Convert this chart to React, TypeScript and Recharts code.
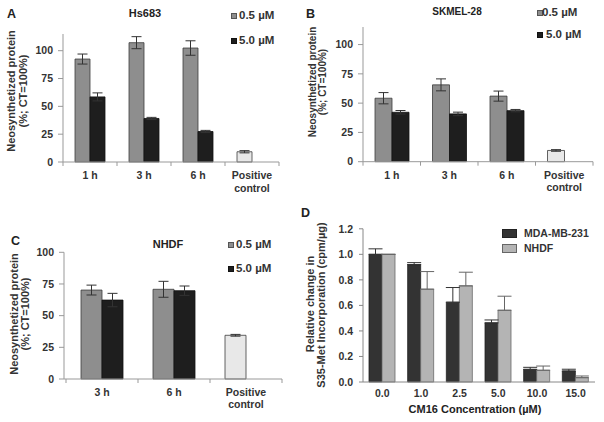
import React from 'react';
import { BarChart, Bar, XAxis, YAxis, ErrorBar, Cell, Legend } from 'recharts';

const FONT = '"Liberation Sans", Arial, Helvetica, sans-serif';

// ---------- Panel A: Hs683 ----------
const hsCategories = ['1 h', '3 h', '6 h', 'Positive control'];
const hsLow = [92.5, 107.2, 102.4, 9.2];
const hsLowErr = [4.5, 5.4, 6.5, 1];
const hsHigh = [58.5, 39.1, 27.4, null];
const hsHighErr = [3.6, 1, 1, null];

// ---------- Panel B: SKMEL-28 ----------
const skCategories = ['1 h', '3 h', '6 h', 'Positive control'];
const skLow = [54.2, 65.6, 56.0, 9.6];
const skLowErr = [4.8, 5.1, 4.3, 0.7];
const skHigh = [42.2, 40.8, 43.6, null];
const skHighErr = [1.5, 1.5, 1.0, null];

// ---------- Panel C: NHDF ----------
const nhCategories = ['3 h', '6 h', 'Positive control'];
const nhLow = [70.2, 70.8, 34.5];
const nhLowErr = [3.9, 6.3, 0.7];
const nhHigh = [62.3, 69.7, null];
const nhHighErr = [5.3, 3.7, null];

const pctTicks = [0, 25, 50, 75, 100];
const lowName = '0.5 µM';
const highName = '5.0 µM';
const controlLabel = 'Positive control';

// ---------- Panel D ----------
const concLabels = ['0.0', '1.0', '2.5', '5.0', '10.0', '15.0'];
const mdaValues = [1.0, 0.92, 0.625, 0.463, 0.099, 0.086];
const mdaErr = [0.043, 0.015, 0.115, 0.023, 0.016, 0.014];
const nhdfValues = [1.0, 0.727, 0.753, 0.562, 0.092, 0.034];
const nhdfErr = [0, 0.138, 0.107, 0.11, 0.033, 0.013];
const relTicks = [0, 0.2, 0.4, 0.6, 0.8, 1.0, 1.2];

const buildRows = (cats: string[], low: any[], lowErr: any[], high: any[], highErr: any[]) =>
  cats.map((c, i) => ({
    cat: c,
    low: low[i],
    lowErr: lowErr[i],
    high: high[i],
    highErr: highErr[i] == null ? undefined : highErr[i],
  }));

const dRows = concLabels.map((c, i) => ({
  cat: c,
  mda: mdaValues[i],
  mdaErr: mdaErr[i],
  nhdf: nhdfValues[i],
  nhdfErr: nhdfErr[i],
}));

const makeCatTick = (half: number, fs: number, l1: number, l2: number, lastCat: string, ticks: boolean) => (props: any) => {
  const { x, y, payload } = props;
  const label = String(payload.value);
  const lines = label.length > 6 && label.includes(' ') ? label.split(' ') : [label];
  return (
    <g>
      {ticks && <line x1={x - half} x2={x - half} y1={y} y2={y + 4} stroke="#999" />}
      {ticks && label === lastCat && <line x1={x + half} x2={x + half} y1={y} y2={y + 4} stroke="#999" />}
      <text textAnchor="middle" fontSize={fs} fontWeight="bold" fill="#333" fontFamily={FONT}>
        {lines.map((t, i) => (
          <tspan key={i} x={x} y={y + l1 + i * l2}>
            {t}
          </tspan>
        ))}
      </text>
    </g>
  );
};

const swatchLegend = (pos: { x: number; y: number }[], tx: number[], sw: number, sh: number, fs: number, strokes: string[]) => (props: any) => (
  <div style={{ position: 'relative' }}>
    {(props.payload || []).map((p: any, i: number) => (
      <div key={i}>
        <div
          style={{
            position: 'absolute',
            left: pos[i].x,
            top: pos[i].y - sh / 2,
            width: sw,
            height: sh,
            boxSizing: 'border-box',
            background: p.color,
            border: `1px solid ${strokes[i]}`,
          }}
        />
        <div
          style={{
            position: 'absolute',
            left: tx[i],
            top: pos[i].y - fs * 0.58,
            whiteSpace: 'nowrap',
            fontFamily: FONT,
            fontWeight: 'bold',
            fontSize: fs,
            lineHeight: `${fs * 1.15}px`,
            color: '#333',
          }}
        >
          {p.value}
        </div>
      </div>
    ))}
  </div>
);

type PctProps = {
  left: number; top: number; width: number; height: number;
  margin: { top: number; right: number; bottom: number; left: number };
  yWidth: number; domainMax: number; cats: string[]; rows: any[]; barSize: number;
  half: number; fs: number; padLeft: number; legendPos: { x: number; y: number }[]; legendTx: number[];
  l1: number; l2: number;
};

const PctPanel = (p: PctProps) => (
  <div style={{ position: 'absolute', left: p.left, top: p.top }}>
    <BarChart width={p.width} height={p.height} data={p.rows} margin={p.margin} barGap={0} barSize={p.barSize}>
      <XAxis
        dataKey="cat"
        interval={0}
        tickSize={0}
        tickMargin={0}
        tickLine={false}
        height={30}
        stroke="#999"
        padding={{ left: p.padLeft, right: 0 }}
        tick={makeCatTick(p.half, p.fs, p.l1, p.l2, p.cats[p.cats.length - 1], true)}
      />
      <YAxis
        width={p.yWidth}
        domain={[0, p.domainMax]}
        ticks={pctTicks}
        interval={0}
        tickSize={5}
        tickMargin={5}
        stroke="#999"
        tick={{ fontSize: p.fs, fontWeight: 'bold', fill: '#333', fontFamily: FONT }}
      />
      <Legend
        layout="vertical"
        align="center"
        verticalAlign="middle"
        wrapperStyle={{ left: 0, top: 0, width: 0, height: 0 }}
        content={swatchLegend(p.legendPos, p.legendTx, 6, 6, 11.5, ['#555', '#111'])}
      />
      <Bar dataKey="low" name={lowName} fill="#8e8e8e" stroke="#3c3c3c" strokeWidth={0.8} isAnimationActive={false}>
        {p.rows.map((r, i) => (
          <Cell key={i} fill={r.cat === controlLabel ? '#e8e8e8' : '#8e8e8e'} />
        ))}
        <ErrorBar dataKey="lowErr" width={5} stroke="#333" strokeWidth={1} direction="y" />
      </Bar>
      <Bar dataKey="high" name={highName} fill="#1e1e1e" stroke="#111" strokeWidth={0.8} isAnimationActive={false}>
        <ErrorBar dataKey="highErr" width={5} stroke="#333" strokeWidth={1} direction="y" />
      </Bar>
    </BarChart>
  </div>
);

const RotText = ({ x, y, fs, children }: any) => (
  <text
    x={x}
    y={y}
    transform={`rotate(-90 ${x} ${y})`}
    textAnchor="middle"
    dominantBaseline="central"
    fontSize={fs}
    fontWeight="bold"
    fill="#333"
    fontFamily={FONT}
  >
    {children}
  </text>
);

const T = ({ x, y, fs, anchor = 'start', children }: any) => (
  <text x={x} y={y} fontSize={fs} fontWeight="bold" fill="#222" fontFamily={FONT} textAnchor={anchor}>
    {children}
  </text>
);

export default function App() {
  const rowsA = buildRows(hsCategories, hsLow, hsLowErr, hsHigh, hsHighErr);
  const rowsB = buildRows(skCategories, skLow, skLowErr, skHigh, skHighErr);
  const rowsC = buildRows(nhCategories, nhLow, nhLowErr, nhHigh, nhHighErr);

  return (
    <div style={{ position: 'absolute', left: 0, top: 0, width: 604, height: 422, background: '#fff', overflow: 'hidden' }}>
      <PctPanel
        left={0} top={0} width={300} height={200}
        margin={{ top: 34, right: 21, bottom: 8, left: 0 }}
        yWidth={63} domainMax={115} cats={hsCategories} rows={rowsA} barSize={15}
        half={27} fs={10.5} padLeft={0}
        legendPos={[{ x: 231, y: 16 }, { x: 231, y: 41 }]} legendTx={[239, 239]}
        l1={17} l2={12.7}
      />
      <PctPanel
        left={300} top={0} width={304} height={200}
        margin={{ top: 27, right: 11, bottom: 8.3, left: 0 }}
        yWidth={63} domainMax={115} cats={skCategories} rows={rowsB} barSize={17}
        half={28.75} fs={10.5} padLeft={0}
        legendPos={[{ x: 237, y: 13 }, { x: 237, y: 35 }]} legendTx={[242, 246]}
        l1={17} l2={12.7}
      />
      <PctPanel
        left={0} top={200} width={300} height={222}
        margin={{ top: 52.3, right: 18, bottom: 13, left: 0 }}
        yWidth={64} domainMax={100} cats={nhCategories} rows={rowsC} barSize={21}
        half={36} fs={10.5} padLeft={2}
        legendPos={[{ x: 228, y: 44.5 }, { x: 228, y: 69 }]} legendTx={[236, 236]}
        l1={17} l2={12}
      />

      <div style={{ position: 'absolute', left: 300, top: 200 }}>
        <BarChart width={304} height={222} data={dRows} margin={{ top: 28.8, right: 9, bottom: 10, left: 0 }} barGap={0} barSize={13}>
          <XAxis
            dataKey="cat"
            interval={0}
            tickSize={0}
            tickMargin={0}
            tickLine={false}
            height={30}
            stroke="#888"
            tick={makeCatTick(19.3, 10.5, 15, 12, concLabels[concLabels.length - 1], false)}
          />
          <YAxis
            width={63}
            domain={[0, 1.2]}
            ticks={relTicks}
            interval={0}
            tickSize={4}
            tickMargin={6}
            stroke="#888"
            tickFormatter={(v: number) => v.toFixed(1)}
            tick={{ fontSize: 10.5, fontWeight: 'bold', fill: '#333', fontFamily: FONT }}
          />
          <Legend
            layout="vertical"
            align="center"
            verticalAlign="middle"
            wrapperStyle={{ left: 0, top: 0, width: 0, height: 0 }}
            content={swatchLegend([{ x: 202, y: 33 }, { x: 202, y: 48 }], [224, 224], 15, 9, 10.5, ['#222', '#666'])}
          />
          <Bar dataKey="mda" name="MDA-MB-231" fill="#333333" stroke="#222" strokeWidth={0.8} isAnimationActive={false}>
            <ErrorBar dataKey={(d: any) => [0, d.mdaErr]} width={7} stroke="#333" strokeWidth={1} direction="y" />
          </Bar>
          <Bar dataKey="nhdf" name="NHDF" fill="#b4b4b4" stroke="#6a6a6a" strokeWidth={0.8} isAnimationActive={false}>
            <ErrorBar dataKey={(d: any) => [0, d.nhdfErr]} width={7} stroke="#666" strokeWidth={1} direction="y" />
          </Bar>
        </BarChart>
      </div>

      <svg width={604} height={422} style={{ position: 'absolute', left: 0, top: 0, pointerEvents: 'none' }}>
        {/* Panel A */}
        <T x={7} y={18} fs={12.5}>A</T>
        <T x={145} y={17} fs={11} anchor="middle">Hs683</T>
        <RotText x={11} y={91} fs={11}>Neosynthetized protein</RotText>
        <RotText x={22.5} y={91} fs={11}>(%; CT=100%)</RotText>
        {/* Panel B */}
        <T x={306} y={18} fs={12.5}>B</T>
        <T x={457} y={15} fs={10} anchor="middle">SKMEL-28</T>
        <RotText x={312.5} y={82} fs={10}>Neosynthetized protein</RotText>
        <RotText x={322.5} y={82} fs={10}>(%; CT=100%)</RotText>
        {/* Panel C */}
        <T x={11} y={245} fs={12.5}>C</T>
        <T x={168} y={248} fs={11} anchor="middle">NHDF</T>
        <RotText x={14} y={314} fs={11}>Neosynthetized protein</RotText>
        <RotText x={24.5} y={314} fs={11}>(%; CT=100%)</RotText>
        {/* Panel D */}
        <T x={301} y={217} fs={12.5}>D</T>
        <T x={475} y={413} fs={11} anchor="middle">CM16 Concentration (µM)</T>
        <RotText x={310} y={304} fs={11}>Relative change in</RotText>
        <RotText x={321} y={305} fs={11}>S35-Met Incorporation (cpm/µg)</RotText>
      </svg>
    </div>
  );
}
